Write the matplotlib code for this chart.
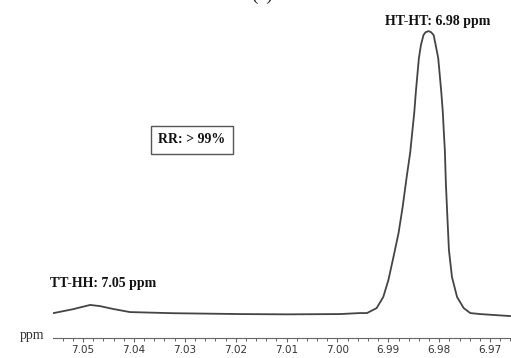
import matplotlib.pyplot as plt
from matplotlib.ticker import MultipleLocator, FormatStrFormatter

ppm = [7.0559, 7.0520, 7.0486, 7.0467, 7.0441, 7.0408, 7.0323, 7.0191,
       7.0100, 6.9995, 6.9956, 6.9942, 6.9923, 6.9910, 6.9900, 6.9890,
       6.9880, 6.9872, 6.9864, 6.9857, 6.9853, 6.9849, 6.9846, 6.9843,
       6.9840, 6.9836, 6.9831, 6.9827, 6.9821, 6.9816, 6.9811, 6.9807,
       6.9802, 6.9799, 6.9796, 6.9793, 6.9791, 6.9789, 6.9787, 6.9784,
       6.9781, 6.9775, 6.9765, 6.9752, 6.9739, 6.9720, 6.9661]
intensity = [1.0, 2.4, 3.9, 3.5, 2.5, 1.4, 1.0, 0.7,
             0.6, 0.7, 1.05, 1.05, 2.8, 6.7, 12.6, 20.7,
             29.1, 38.2, 48.8, 57.5, 64.6, 71.6, 78.6, 84.6,
             90.5, 95.1, 98.6, 99.6, 100.0, 99.6, 98.6, 95.1,
             90.5, 84.6, 78.6, 71.6, 64.6, 58.2, 46.7, 34.7,
             23.2, 13.7, 6.7, 2.8, 1.05, 0.7, 0.0]

tick_values = [7.05, 7.04, 7.03, 7.02, 7.01, 7.00, 6.99, 6.98, 6.97]

fig = plt.figure(figsize=(5.11, 3.58), dpi=100)
ax = fig.add_axes([53 / 511, 20 / 358, 458 / 511, 318 / 358])

ax.plot(ppm, intensity, color='#444444', lw=1.3, solid_joinstyle='round')

ax.set_xlim(7.0559, 6.9659)
ax.set_ylim(-7.7, 103.9)

for s in ['top', 'left', 'right']:
    ax.spines[s].set_visible(False)
ax.spines['bottom'].set_color('#666666')
ax.spines['bottom'].set_linewidth(0.8)
ax.set_yticks([])

ax.set_xticks(tick_values)
ax.xaxis.set_major_formatter(FormatStrFormatter('%.2f'))
ax.xaxis.set_minor_locator(MultipleLocator(0.002))
ax.tick_params(axis='x', which='major', direction='out', length=3, width=0.8,
               color='#666666', labelsize=7.5, labelcolor='#333333', pad=2)
ax.tick_params(axis='x', which='minor', direction='out', length=2, width=0.7,
               color='#666666')

serif = 'Liberation Serif'
fig.text(20 / 511, 1 - 336 / 358, 'ppm', family=serif, fontsize=10,
         color='#333333', ha='left', va='center')

fig.text(438 / 511, 1 - 22 / 358, 'HT-HT: 6.98 ppm', family=serif,
         fontweight='bold', fontsize=10, color='#111111', ha='center', va='center')
fig.text(103 / 511, 1 - 283 / 358, 'TT-HH: 7.05 ppm', family=serif,
         fontweight='bold', fontsize=10, color='#111111', ha='center', va='center')
fig.text(192 / 511, 1 - 140 / 358, 'RR: > 99%', family=serif,
         fontweight='bold', fontsize=10, color='#111111', ha='center', va='center',
         bbox=dict(boxstyle='square,pad=0.55', fc='white', ec='#555555', lw=1))

# panel label, cut off at the top edge like in the source
fig.text(262 / 511, 1.0, '(a)', family=serif, fontsize=14,
         color='#222222', ha='center', va='baseline')

fig.savefig('out.png', dpi=100)
